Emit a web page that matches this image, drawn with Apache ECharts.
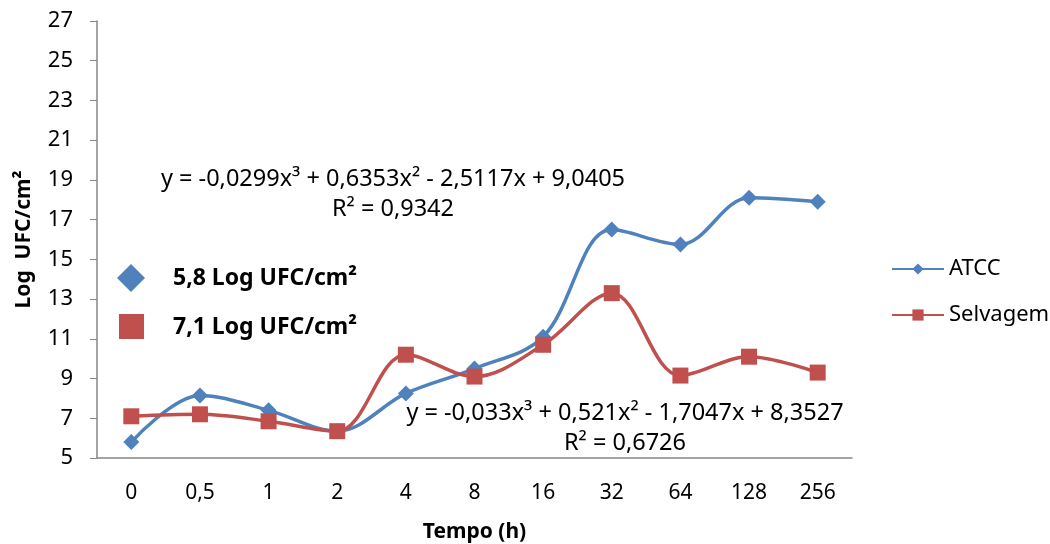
<!DOCTYPE html>
<html>
<head>
<meta charset="utf-8">
<script src="https://cdn.jsdelivr.net/npm/echarts@6/dist/echarts.min.js"></script>
<style>
  html, body { margin: 0; padding: 0; background: #fff; }
  #chart { width: 1050px; height: 544px; }
</style>
</head>
<body>
<div id="chart"></div>
<script>
// tempo (h)
const categories = ['0', '0,5', '1', '2', '4', '8', '16', '32', '64', '128', '256'];
const atcc = [5.8, 8.15, 7.4, 6.35, 8.25, 9.5, 11.1, 16.5, 15.75, 18.1, 17.9];
const selvagem = [7.1, 7.2, 6.85, 6.35, 10.2, 9.1, 10.7, 13.3, 9.15, 10.1, 9.3];
const yTicks = [5, 27, 2]; // min, max, step

const font = 'Noto Sans, sans-serif';
const blue = '#4F81BD';
const red = '#C0504D';

var chart = echarts.init(document.getElementById('chart'));

let option = {
  animation: false,
  grid: { left: 97, right: 198, top: 21, bottom: 86, outerBoundsMode: 'none' },
  legend: {
    orient: 'vertical',
    left: 886,
    top: 253,
    itemWidth: 52,
    itemHeight: 14,
    itemGap: 24,
    textStyle: { fontFamily: font, fontSize: 22, color: '#000' },
    data: ['ATCC', 'Selvagem']
  },
  xAxis: {
    type: 'category',
    data: categories,
    name: 'Tempo (h)',
    nameLocation: 'middle',
    nameGap: 64,
    nameTextStyle: { fontFamily: font, fontSize: 21, fontWeight: 'bold', color: '#000' },
    axisLine: { lineStyle: { color: '#868686', width: 1.5 } },
    axisTick: { length: 7, lineStyle: { color: '#868686' } },
    axisLabel: { fontFamily: font, fontSize: 21, color: '#000', margin: 25 }
  },
  yAxis: {
    type: 'value',
    min: yTicks[0],
    max: yTicks[1],
    interval: yTicks[2],
    name: 'Log  UFC/cm²',
    nameLocation: 'middle',
    nameGap: 62,
    nameRotate: 90,
    nameTextStyle: { fontFamily: font, fontSize: 21, fontWeight: 'bold', color: '#000' },
    axisLine: { show: true, lineStyle: { color: '#868686', width: 1.5 } },
    axisTick: { show: true, length: 7, lineStyle: { color: '#868686' } },
    axisLabel: { fontFamily: font, fontSize: 22, color: '#000', margin: 24 },
    splitLine: { show: false }
  },
  series: [
    {
      name: 'ATCC',
      type: 'line',
      data: atcc,
      smooth: 0.35,
      symbol: 'diamond',
      symbolSize: 16,
      itemStyle: { color: blue },
      lineStyle: { color: blue, width: 3.5 }
    },
    {
      name: 'Selvagem',
      type: 'line',
      data: selvagem,
      smooth: 0.35,
      symbol: 'rect',
      symbolSize: 16,
      itemStyle: { color: red },
      lineStyle: { color: red, width: 3.5 }
    }
  ],
  graphic: [
    {
      type: 'polygon',
      shape: { points: [[131, 264], [145, 278], [131, 292], [117, 278]] },
      style: { fill: blue }
    },
    {
      type: 'rect',
      shape: { x: 119, y: 314, width: 25, height: 25 },
      style: { fill: red }
    },
    {
      type: 'text',
      x: 173, y: 278,
      style: { text: '5,8 Log UFC/cm²', font: 'bold 23px ' + font, fill: '#000', verticalAlign: 'middle' }
    },
    {
      type: 'text',
      x: 173, y: 327,
      style: { text: '7,1 Log UFC/cm²', font: 'bold 23px ' + font, fill: '#000', verticalAlign: 'middle' }
    },
    {
      type: 'text',
      x: 393, y: 179,
      style: { text: 'y = -0,0299x³ + 0,6353x² - 2,5117x + 9,0405', font: '23.5px ' + font, fill: '#000', align: 'center', verticalAlign: 'middle' }
    },
    {
      type: 'text',
      x: 393, y: 209,
      style: { text: 'R² = 0,9342', font: '23.5px ' + font, fill: '#000', align: 'center', verticalAlign: 'middle' }
    },
    {
      type: 'text',
      x: 625, y: 413,
      style: { text: 'y = -0,033x³ + 0,521x² - 1,7047x + 8,3527', font: '23.5px ' + font, fill: '#000', align: 'center', verticalAlign: 'middle' }
    },
    {
      type: 'text',
      x: 625, y: 443,
      style: { text: 'R² = 0,6726', font: '23.5px ' + font, fill: '#000', align: 'center', verticalAlign: 'middle' }
    }
  ]
};

chart.setOption(option);
</script>
</body>
</html>
